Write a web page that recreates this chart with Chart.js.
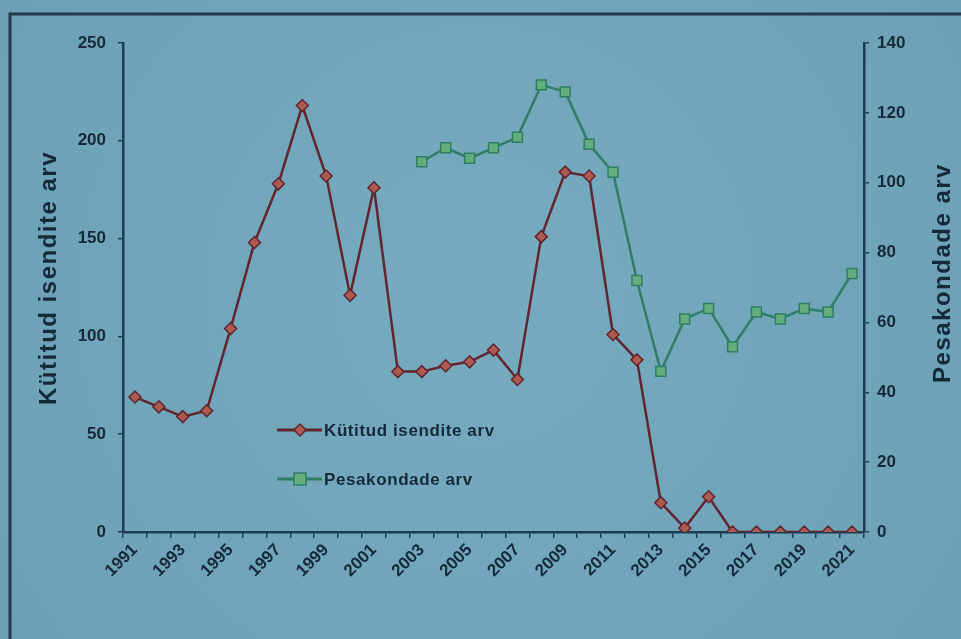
<!DOCTYPE html>
<html>
<head>
<meta charset="utf-8">
<script src="https://cdn.jsdelivr.net/npm/chart.js@4/dist/chart.umd.min.js"></script>
<style>
  html, body { margin: 0; padding: 0; background: #6ea3b7; }
  #wrap { position: relative; width: 961px; height: 639px; }
  canvas { display: block; }
</style>
</head>
<body>
<div id="wrap"><canvas id="c" width="961" height="639"></canvas></div>
<script>
// ---- data ----
const years = ['1991','1992','1993','1994','1995','1996','1997','1998','1999','2000',
               '2001','2002','2003','2004','2005','2006','2007','2008','2009','2010',
               '2011','2012','2013','2014','2015','2016','2017','2018','2019','2020','2021'];
const kutitudIsendid = [69,64,59,62,104,148,178,218,182,121,176,82,82,85,87,93,78,151,184,182,101,88,15,2,18,0,0,0,0,0,0];
const pesakonnad = [null,null,null,null,null,null,null,null,null,null,null,null,
                    106,110,107,110,113,128,126,111,103,72,46,61,64,53,63,61,64,63,74];
const leftTicks = [0,50,100,150,200,250];
const rightTicks = [0,20,40,60,80,100,120,140];
const leftTitle = 'Kütitud isendite arv';
const rightTitle = 'Pesakondade arv';
const series1Name = 'Kütitud isendite arv';
const series2Name = 'Pesakondade arv';

const INK = '#16293a';
const AXIS = '#1d3d52';
const RED_LINE = '#62252e';
const RED_FILL = '#ad5a50';
const GREEN_LINE = '#2f7d64';
const GREEN_FILL = '#64ad7c';
const FONT = '"Liberation Sans", Arial, sans-serif';

const deco = {
  id: 'deco',
  beforeDraw(chart) {
    const ctx = chart.ctx;
    ctx.save();
    const g = ctx.createRadialGradient(480, 300, 50, 480, 300, 650);
    g.addColorStop(0, '#76abbf');
    g.addColorStop(1, '#6a9fb4');
    ctx.fillStyle = g;
    ctx.fillRect(0, 0, chart.width, chart.height);
    // slide frame
    ctx.strokeStyle = '#1f3b4c';
    ctx.lineWidth = 3;
    ctx.beginPath();
    ctx.moveTo(10, 639);
    ctx.lineTo(10, 14);
    ctx.lineTo(961, 14);
    ctx.stroke();
    ctx.restore();
  },
  afterDraw(chart) {
    const ctx = chart.ctx;
    const drawTitle = (txt, x, y) => {
      ctx.save();
      ctx.fillStyle = INK;
      ctx.font = 'bold 24px ' + FONT;
      ctx.letterSpacing = '1.5px';
      ctx.textAlign = 'center';
      ctx.textBaseline = 'middle';
      ctx.translate(x, y);
      ctx.rotate(-Math.PI / 2);
      ctx.fillText(txt, 0, 0);
      ctx.restore();
    };
    drawTitle(leftTitle, 49, 278);
    drawTitle(rightTitle, 943, 273);

    // legend inside plot
    const ds = chart.data.datasets;
    const items = [{y: 430, d: ds[0]}, {y: 479, d: ds[1]}];
    items.forEach(it => {
      ctx.save();
      ctx.strokeStyle = it.d.borderColor;
      ctx.lineWidth = 3;
      ctx.beginPath();
      ctx.moveTo(277, it.y);
      ctx.lineTo(322, it.y);
      ctx.stroke();
      ctx.fillStyle = it.d.pointBackgroundColor;
      ctx.strokeStyle = it.d.pointBorderColor;
      ctx.lineWidth = 1.5;
      ctx.beginPath();
      if (it.d.pointStyle === 'rectRot') {
        ctx.moveTo(300, it.y - 6); ctx.lineTo(306, it.y); ctx.lineTo(300, it.y + 6); ctx.lineTo(294, it.y);
      } else {
        ctx.rect(294, it.y - 6, 12, 12);
      }
      ctx.closePath();
      ctx.fill();
      ctx.stroke();
      ctx.fillStyle = INK;
      ctx.font = 'bold 17px ' + FONT;
      ctx.letterSpacing = '0.6px';
      ctx.textAlign = 'left';
      ctx.textBaseline = 'middle';
      ctx.fillText(it.d.label, 324, it.y + 1);
      ctx.restore();
    });
  }
};

const tickFont = { family: FONT, size: 17, weight: 'bold' };

new Chart(document.getElementById('c'), {
  type: 'line',
  data: {
    labels: years,
    datasets: [
      {
        label: series1Name,
        data: kutitudIsendid,
        yAxisID: 'y',
        borderColor: RED_LINE,
        borderWidth: 2.5,
        pointStyle: 'rectRot',
        pointRadius: 6,
        pointBackgroundColor: RED_FILL,
        pointBorderColor: RED_LINE,
        pointBorderWidth: 1.5,
        tension: 0
      },
      {
        label: series2Name,
        data: pesakonnad,
        yAxisID: 'y1',
        borderColor: GREEN_LINE,
        borderWidth: 2.5,
        pointStyle: 'rect',
        pointRadius: 7,
        pointBackgroundColor: GREEN_FILL,
        pointBorderColor: GREEN_LINE,
        pointBorderWidth: 1.5,
        spanGaps: false,
        tension: 0
      }
    ]
  },
  options: {
    responsive: false,
    animation: false,
    devicePixelRatio: 1,
    layout: { padding: { top: 43, left: 0, right: 0, bottom: 0 } },
    plugins: { legend: { display: false }, tooltip: { enabled: false } },
    scales: {
      x: {
        type: 'category',
        offset: true,
        afterFit(s) { s.height = 107; },
        grid: { display: true, drawOnChartArea: false, offset: true, tickLength: 6, color: AXIS, lineWidth: 1.5 },
        border: { display: true, color: AXIS, width: 2.5 },
        ticks: {
          autoSkip: false,
          maxRotation: 45,
          minRotation: 45,
          color: INK,
          font: tickFont,
          padding: 2,
          callback(v, i) { return i % 2 === 0 ? years[i] : ''; }
        }
      },
      y: {
        position: 'left',
        min: 0, max: 250,
        afterFit(s) { s.width = 123; },
        afterBuildTicks(s) { s.ticks = leftTicks.map(v => ({ value: v })); },
        grid: { display: true, drawOnChartArea: false, tickLength: 5, color: AXIS, lineWidth: 1.5 },
        border: { display: true, color: AXIS, width: 2.5 },
        ticks: { color: INK, padding: 12, font: tickFont }
      },
      y1: {
        position: 'right',
        min: 0, max: 140,
        afterFit(s) { s.width = 97; },
        afterBuildTicks(s) { s.ticks = rightTicks.map(v => ({ value: v })); },
        grid: { display: true, drawOnChartArea: false, tickLength: 5, color: AXIS, lineWidth: 1.5 },
        border: { display: true, color: AXIS, width: 2.5 },
        ticks: { color: INK, padding: 8, font: tickFont }
      }
    }
  },
  plugins: [deco]
});
</script>
</body>
</html>
